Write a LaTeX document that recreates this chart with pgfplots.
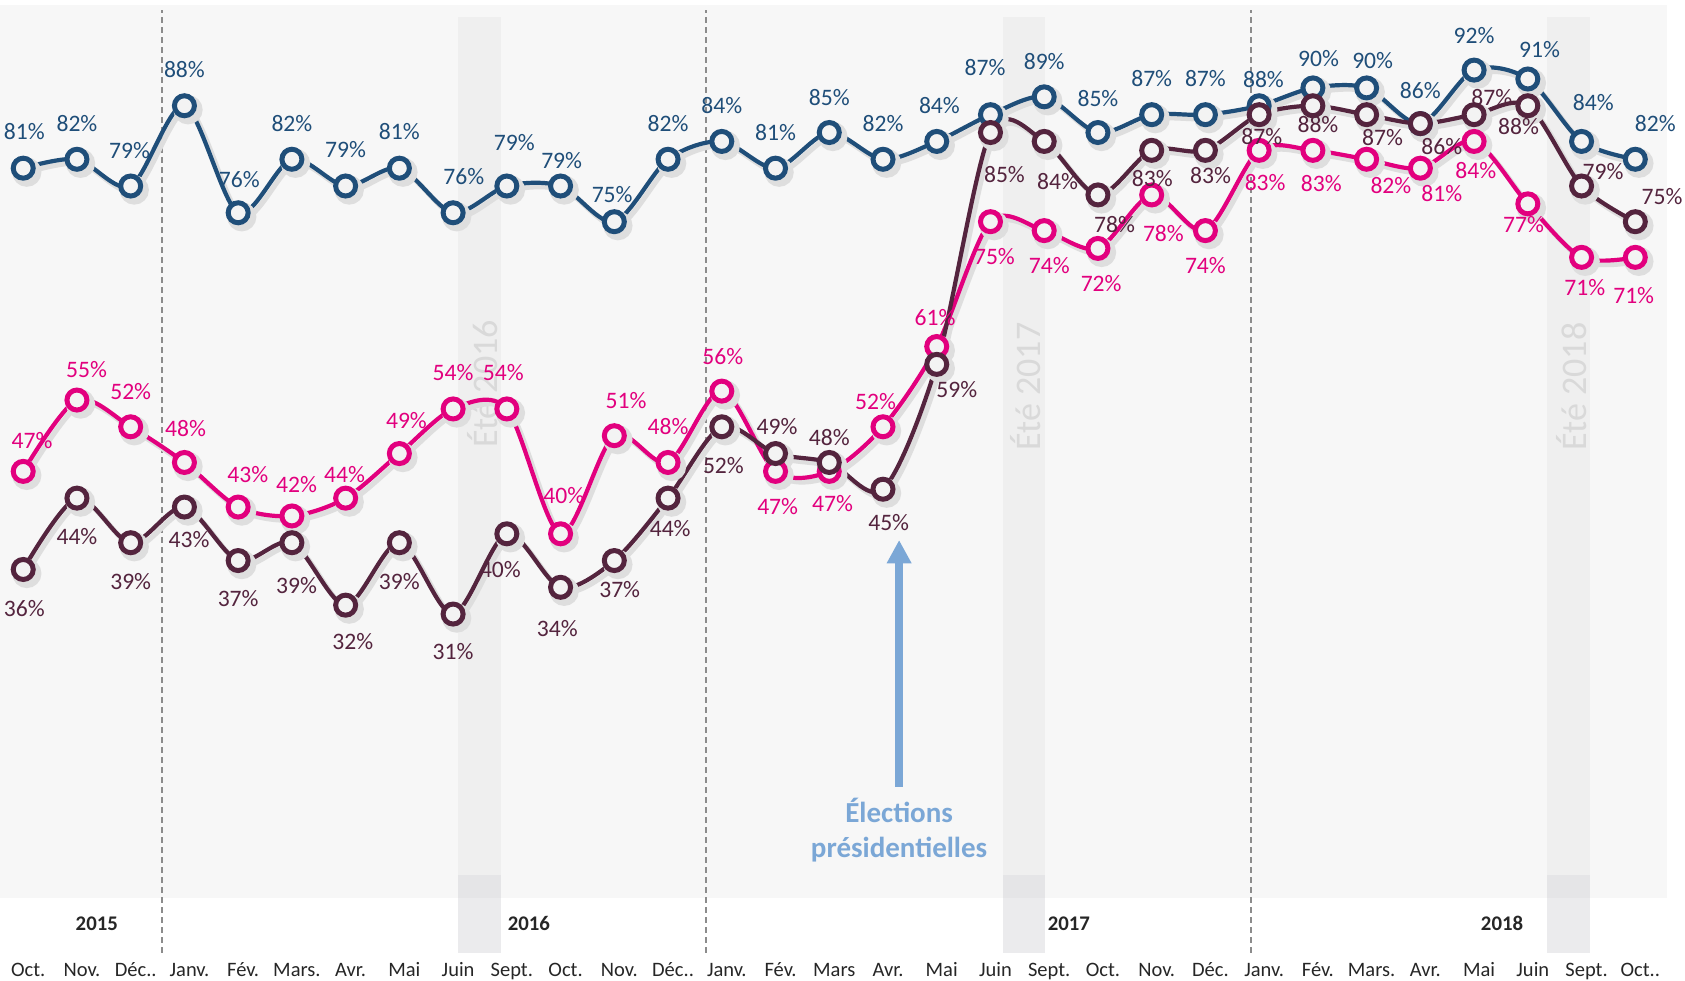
\documentclass[border=0pt]{standalone}
\usepackage{pgfplots}
\pgfplotsset{compat=1.18}
\usepackage{pgfplotstable}
\usepackage{fontspec}
\setmainfont{Carlito}
\usetikzlibrary{arrows.meta}
\definecolor{cblue}{RGB}{31,78,121}
\definecolor{cpink}{RGB}{226,0,126}
\definecolor{cmar}{RGB}{84,36,62}
\definecolor{bg}{RGB}{247,247,247}
\definecolor{band}{RGB}{239,239,239}
\definecolor{bandlow}{RGB}{229,229,231}
\definecolor{bandbot}{RGB}{235,235,237}
\definecolor{arrowc}{RGB}{123,167,214}
\definecolor{ete}{RGB}{217,217,217}
\definecolor{markfill}{RGB}{243,243,243}
\definecolor{dashc}{RGB}{140,140,140}
\definecolor{txtc}{RGB}{38,38,38}
\definecolor{shad}{RGB}{222,222,222}

\pgfplotstableread{
x y dx up
0 81 1 34
1 82 0 33.5
2 79 -1 32.6
3 88 0 33.5
4 76 1 31
5 82 0 33
6 79 0 34
7 81 0 34
8 76 10 34
9 79 7 40
10 79 1 24
11 75 -2 25
12 82 0 33
13 84 0 33.6
14 81 0 33
15 85 0 33
16 82 0 33
17 84 2.5 33
18 87 -5 43.7
19 89 0 33
20 85 0 32
21 87 0 33.7
22 87 0 33.7
23 88 4 24.8
24 90 5.3 27.3
25 90 5.6 25.7
26 86 0 31
27 92 0 32.6
28 91 10.9 27
29 84 10.9 36.6
30 82 18.6 33.2
}\tblue

\pgfplotstableread{
x y dx up
0 47 8.3 28.8
1 55 9 28.5
2 52 0 33
3 48 1 32
4 43 9 30.4
5 42 4.3 29.5
6 44 -1 21.7
7 49 6.6 31
8 54 0 34
9 54 -3.3 34
10 40 3 35.7
11 51 10.9 32.6
12 48 0 33
13 56 1 32.6
14 47 2 -32.6
15 47 3 -29.5
16 52 -7 23.3
17 61 -1.5 27
18 75 3.7 -32.6
19 74 4.7 -32.6
20 72 3 -32.6
21 78 10.9 -35.7
22 74 0 -32.6
23 83 5.6 -30
24 83 7.8 -31
25 82 22.6 -24.8
26 81 20 -23.9
27 84 1.5 -27.3
28 77 -4 -19.2
29 71 3 -27.9
30 71 -1.5 -35.7
}\tpink

\pgfplotstableread{
x y dx up
0 36 1 -36.3
1 44 0 -35.7
2 39 0 -35.7
3 43 4.3 -30
4 37 0 -35
5 39 4.3 -39.7
6 32 6.6 -33.5
7 39 0 -35.7
8 31 0 -35
9 40 -6 -33
10 34 -3 -38
11 37 5 -27
12 44 2 -28.5
13 52 1.5 -35.7
14 49 1.5 25.4
15 48 0 23.3
16 45 5.3 -31
17 59 18.6 -23.3
18 85 13 -38.8
19 84 12.4 -37.2
20 78 15.5 -28
21 83 0.6 -26.4
22 83 4.7 -23.3
23 87 2.5 -20
24 88 4.7 -17.7
25 87 14.9 -21.7
26 86 20 -21.7
27 87 16.4 15.5
28 88 -8.7 -19.2
29 79 20 13.6
30 75 24.8 23.3
}\tmar

\pgfplotsset{
  lbl/.style={
    point meta=explicit symbolic,
    nodes near coords={\pgfplotspointmeta\%},
    visualization depends on={\thisrow{dx}\as\lblx},
    visualization depends on={\thisrow{up}\as\lbly},
    every node near coord/.append style={anchor=center, inner sep=0pt,
      font=\fontsize{11.8}{14}\selectfont, text=#1,
      xshift=\lblx*0.5373pt, yshift=\lbly*0.5373pt},
  },
  serie/.style={#1, line width=2.1pt, smooth, tension=0.5, mark=*, mark size=5pt,
    mark options={fill=markfill, draw=#1, line width=2.5pt, solid}, lbl=#1},
  shadow/.style={shad, line width=2.6pt, smooth, tension=0.5, mark=*, mark size=6pt,
    mark options={fill=shad, draw=none, solid}, xshift=1.8pt, yshift=-2pt},
}

\begin{document}
\begin{tikzpicture}
\useasboundingbox (0,-41pt) rectangle (842.5pt,449pt);
\begin{axis}[
  at={(0,0)}, anchor=south west,
  width=833.5pt, height=446.5pt, scale only axis,
  xmin=-0.432, xmax=30.59, ymin=-0.84, ymax=99.3,
  axis line style={draw=none},
  axis background/.style={fill=bg},
  ytick=\empty,
  xtick={0,1,...,30},
  xticklabels={Oct.,Nov.,Déc..,Janv.,Fév.,Mars.,Avr.,Mai,Juin,Sept.,Oct.,Nov.,Déc..,Janv.,Fév.,Mars,Avr.,Mai,Juin,Sept.,Oct.,Nov.,Déc.,Janv.,Fév.,Mars.,Avr.,Mai,Juin,Sept.,Oct..},
  major tick length=0pt,
  xticklabel style={anchor=base, yshift=-39.3pt, xshift=2.5pt, text=txtc,
    font=\fontsize{10.25}{12}\selectfont},
  clip=false,
]
% summer bands
\fill[band] (axis cs:8.09,-7) rectangle (axis cs:8.89,97.95);
\fill[band] (axis cs:18.23,-7) rectangle (axis cs:19.01,97.95);
\fill[band] (axis cs:28.36,-7) rectangle (axis cs:29.16,97.95);
\fill[bandlow] (axis cs:8.09,-0.84) rectangle (axis cs:8.89,1.74);
\fill[bandlow] (axis cs:18.23,-0.84) rectangle (axis cs:19.01,1.74);
\fill[bandlow] (axis cs:28.36,-0.84) rectangle (axis cs:29.16,1.74);
\fill[bandbot] (axis cs:8.09,-7) rectangle (axis cs:8.89,-0.84);
\fill[bandbot] (axis cs:18.23,-7) rectangle (axis cs:19.01,-0.84);
\fill[bandbot] (axis cs:28.36,-7) rectangle (axis cs:29.16,-0.84);
\node[rotate=90, text=ete, font=\fontsize{18}{20}\selectfont] at (axis cs:8.54,56.8) {Été 2016};
\node[rotate=90, text=ete, font=\fontsize{18}{20}\selectfont] at (axis cs:18.66,56.5) {Été 2017};
\node[rotate=90, text=ete, font=\fontsize{18}{20}\selectfont] at (axis cs:28.81,56.5) {Été 2018};
% year separators
\draw[dashc, line width=0.9pt, dash pattern=on 3pt off 2pt] (axis cs:2.58,-7) -- (axis cs:2.58,98.7);
\draw[dashc, line width=0.9pt, dash pattern=on 3pt off 2pt] (axis cs:12.71,-7) -- (axis cs:12.71,98.7);
\draw[dashc, line width=0.9pt, dash pattern=on 3pt off 2pt] (axis cs:22.85,-7) -- (axis cs:22.85,98.7);
% years
\node[anchor=base, text=txtc, font=\bfseries\fontsize{10.4}{12}\selectfont, yshift=-16pt] at (axis cs:1.37,-0.84) {2015};
\node[anchor=base, text=txtc, font=\bfseries\fontsize{10.4}{12}\selectfont, yshift=-16pt] at (axis cs:9.41,-0.84) {2016};
\node[anchor=base, text=txtc, font=\bfseries\fontsize{10.4}{12}\selectfont, yshift=-16pt] at (axis cs:19.46,-0.84) {2017};
\node[anchor=base, text=txtc, font=\bfseries\fontsize{10.4}{12}\selectfont, yshift=-16pt] at (axis cs:27.52,-0.84) {2018};
% annotation
\draw[arrowc, line width=4pt, -{Triangle[width=11.7pt,length=11.7pt]}] (axis cs:16.3,11.64) -- (axis cs:16.3,39.3);
\node[align=center, text=arrowc, font=\bfseries\fontsize{14.5}{17.5}\selectfont] at (axis cs:16.3,6.73) {Élections\\présidentielles};
% shadows
\addplot[shadow] table[x=x,y=y] {\tblue};
\addplot[shadow] table[x=x,y=y] {\tpink};
\addplot[shadow] table[x=x,y=y] {\tmar};
% series
\addplot[serie=cblue] table[x=x,y=y,meta=y] {\tblue};
\addplot[serie=cpink] table[x=x,y=y,meta=y] {\tpink};
\addplot[serie=cmar] table[x=x,y=y,meta=y] {\tmar};
\end{axis}
\end{tikzpicture}
\end{document}
